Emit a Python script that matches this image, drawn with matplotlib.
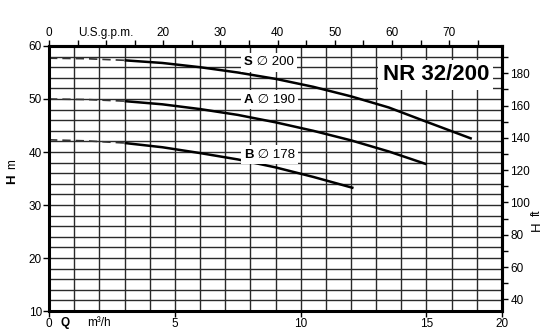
import matplotlib.pyplot as plt
import numpy as np

plt.rcParams['font.family'] = ['Liberation Sans', 'DejaVu Sans']

M_TO_FT = 3.28084
M3H_TO_GPM = 4.40287

# curves: Q in m3/h, H in m
s_q = [0, 1.5, 3, 4.5, 6, 7.5, 9, 10.5, 12, 13.5, 15, 16.8]
s_h = [57.7, 57.6, 57.3, 56.8, 56.0, 55.0, 53.8, 52.3, 50.5, 48.4, 45.7, 42.5]
a_q = [0, 1.5, 3, 4.5, 6, 7.5, 9, 10.5, 12, 13.5, 15]
a_h = [50.0, 49.9, 49.6, 49.0, 48.1, 47.0, 45.6, 44.0, 42.2, 40.1, 37.7]
b_q = [0, 1.5, 3, 4.5, 6, 7.5, 9, 10.5, 12.1]
b_h = [42.3, 42.1, 41.7, 40.9, 39.8, 38.6, 37.1, 35.3, 33.2]

curves = [
    ("S", "200", s_q, s_h, 56.9),
    ("A", "190", a_q, a_h, 49.9),
    ("B", "178", b_q, b_h, 39.5),
]

x_ticks = [0, 5, 10, 15, 18]
x_labels = ["0", "5", "10", "15", "20"]
gpm_ticks = [0, 10, 20, 30, 40, 50, 60, 70]
gpm_labels = ["0", "U.S.g.p.m.", "20", "30", "40", "50", "60", "70"]
ft_ticks = [40, 60, 80, 100, 120, 140, 160, 180]

fig = plt.figure(figsize=(5.55, 3.35), dpi=100)
ax = fig.add_axes([0.0883, 0.0716, 0.8162, 0.7911])

xmax = 18.0
ax.set_xlim(0, xmax)
ax.set_ylim(10, 60)

# grid
for q in range(1, 18):
    ax.axvline(q, color='#2a2a2a', lw=1.0, zorder=1)
for h in range(12, 60, 2):
    ax.axhline(h, color='#2a2a2a', lw=1.0, zorder=1)

box = dict(boxstyle='square,pad=0.25', fc='white', ec='none')
for name, dia, q, h, ly in curves:
    q = np.array(q)
    h = np.array(h)
    dash = q <= 3
    ax.plot(q[dash], h[dash], color='#333333', lw=1.2, ls=(0, (5, 3)), zorder=3)
    ax.plot(q[q >= 3], h[q >= 3], color='black', lw=1.8, zorder=3,
            solid_capstyle='butt')
    t1 = ax.text(7.75, ly, name, fontsize=9.5, fontweight='bold', va='center',
                 ha='left', zorder=5, bbox=box)
    ax.annotate(" \u2205 " + dia, xy=(1, 0.5), xycoords=t1, fontsize=9.5,
                va='center', ha='left', zorder=4, bbox=box)

ax.text(0.854, 0.892, "NR 32/200", transform=ax.transAxes, fontsize=16,
        fontweight='bold', ha='center', va='center', zorder=5,
        bbox=dict(boxstyle='square,pad=0.2', fc='white', ec='none'))

for sp in ax.spines.values():
    sp.set_linewidth(2.2)
    sp.set_zorder(6)

ax.set_xticks(x_ticks)
ax.set_xticklabels(x_labels)
ax.set_yticks([10, 20, 30, 40, 50, 60])
ax.tick_params(axis='both', labelsize=8.5, length=4, width=1, pad=1)

# right axis in feet
axr = ax.twinx()
axr.set_ylim(10 * M_TO_FT, 60 * M_TO_FT)
axr.set_yticks(ft_ticks)
axr.set_yticks(range(50, 200, 20), minor=True)
axr.tick_params(axis='y', which='both', labelsize=8.5, length=4, width=1, pad=2)
axr.spines['right'].set_linewidth(2.2)

# top axis in US gpm
axt = ax.twiny()
axt.set_xlim(0, xmax * M3H_TO_GPM)
axt.set_xticks(gpm_ticks)
axt.set_xticklabels(gpm_labels)
axt.set_xticks(range(5, 80, 10), minor=True)
axt.tick_params(axis='x', which='both', labelsize=8.5, length=4, width=1, pad=1)
axt.spines['top'].set_linewidth(2.2)

# axis titles
fig.text(0.022, 0.465, "H", rotation=90, fontsize=9.5, fontweight='bold',
         ha='center', va='center')
fig.text(0.022, 0.51, "m", rotation=90, fontsize=8.5, ha='center', va='center')
fig.text(0.967, 0.325, "H", rotation=90, fontsize=9.5, ha='center', va='center')
fig.text(0.967, 0.365, "ft", rotation=90, fontsize=8.5, ha='center', va='center')
fig.text(0.118, 0.035, "Q", fontsize=8.5, fontweight='bold', ha='center',
         va='center')
fig.text(0.178, 0.035, "m\u00b3/h", fontsize=8.5, ha='center', va='center')

fig.savefig('out.png', dpi=100)
